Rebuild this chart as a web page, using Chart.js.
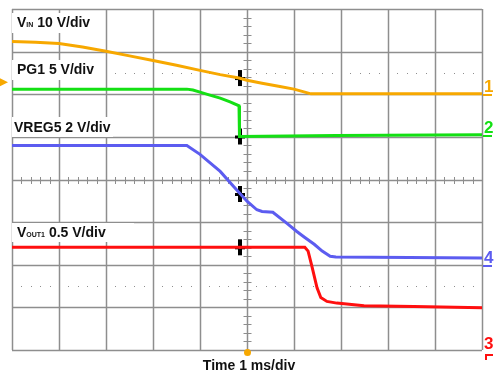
<!DOCTYPE html>
<html>
<head>
<meta charset="utf-8">
<script src="https://cdn.jsdelivr.net/npm/chart.js@4/dist/chart.umd.min.js"></script>
<style>
  html, body { margin: 0; padding: 0; background: #ffffff; }
  #wrap { width: 497px; height: 377px; }
</style>
</head>
<body>
<div id="wrap"><canvas id="c" width="497" height="377"></canvas></div>
<script>
// Time axis: ms (1 ms/div), trigger at 0. Vertical: screen divisions (0 = bottom, 8 = top).
const vinT  = [-5, -4.5, -4, -3.5, -3, -2.5, -2, -1.5, -1, -0.57, -0.17, 0, 0.32, 0.70, 1.0, 1.23, 1.36, 2, 3, 4, 5];
const vinV  = [7.24, 7.22, 7.19, 7.11, 7.01, 6.90, 6.79, 6.68, 6.56, 6.46, 6.38, 6.33, 6.26, 6.18, 6.12, 6.05, 6.01, 6.01, 6.01, 6.01, 6.01];

const pg1T  = [-5, -1.28, -1.15, -1.0, -0.79, -0.57, -0.36, -0.17, -0.16, 1.9, 5];
const pg1V  = [6.12, 6.12, 6.10, 6.05, 5.98, 5.91, 5.82, 5.73, 5.01, 5.03, 5.05];

const vregT = [-5, -1.28, -1.0, -0.57, -0.28, 0, 0.21, 0.32, 0.55, 0.85, 1.06, 1.23, 1.43, 1.60, 1.77, 1.89, 5];
const vregV = [4.80, 4.80, 4.59, 4.19, 3.83, 3.49, 3.29, 3.25, 3.23, 2.97, 2.78, 2.64, 2.48, 2.32, 2.20, 2.18, 2.16];

const voutT = [-5, 1.23, 1.30, 1.38, 1.49, 1.57, 1.70, 1.91, 2.49, 3.55, 5];
const voutV = [2.41, 2.41, 2.32, 1.97, 1.46, 1.23, 1.14, 1.10, 1.04, 1.02, 0.99];

const cursorT = [-0.15, -0.15, -0.15, -0.15];
const cursorV = [6.38, 5.01, 3.66, 2.41];

const chanNames  = ['1', '2', '4', '3'];
const chanLevels = [6.0, 5.05, 1.99, -0.12];
const triggerLevel = 6.28;
const dottedLevels = [6.5, 1.5];

const traceLabels = [
  { main: 'V', sub: 'IN', rest: ' 10 V/div', x: 17, y: 27, box: [12, 13, 84, 20] },
  { main: 'PG1 5 V/div', sub: '', rest: '', x: 17, y: 74, box: [12, 60, 88, 20] },
  { main: 'VREG5 2 V/div', sub: '', rest: '', x: 14, y: 132, box: [12, 117, 101, 20] },
  { main: 'V', sub: 'OUT1', rest: ' 0.5 V/div', x: 17, y: 237, box: [12, 223, 122, 19] }
];
const xTitle = 'Time 1 ms/div';

const C_OR = '#f7a800', C_GR = '#14e014', C_BL = '#5c5cf0', C_RD = '#ff0f0f';

function pts(t, v) { return t.map((x, i) => ({ x: x, y: v[i] })); }

// cursor marker
const cur = document.createElement('canvas');
cur.width = 10; cur.height = 18;
(function () {
  const g = cur.getContext('2d');
  g.fillStyle = '#000';
  g.fillRect(3, 1, 4, 16);
  g.fillRect(0, 8, 10, 3);
  g.fillStyle = '#fff';
  g.fillRect(4, 9, 2, 1);
})();

const FONT = 'bold 14px "Liberation Sans", Arial, sans-serif';

const scopePlugin = {
  id: 'scope',
  beforeDatasetsDraw(chart) {
    const ctx = chart.ctx, a = chart.chartArea;
    const xs = chart.scales.x, ys = chart.scales.y;
    ctx.save();
    ctx.strokeStyle = '#8e8e8e';
    ctx.lineWidth = 1.5;
    for (let i = -5; i <= 5; i++) {
      const px = Math.round(xs.getPixelForValue(i)) + 0.5;
      ctx.beginPath(); ctx.moveTo(px, a.top); ctx.lineTo(px, a.bottom); ctx.stroke();
    }
    for (let j = 0; j <= 8; j++) {
      const py = Math.round(ys.getPixelForValue(j)) + 0.5;
      ctx.beginPath(); ctx.moveTo(a.left, py); ctx.lineTo(a.right, py); ctx.stroke();
    }
    // minor ticks on center axes
    ctx.lineWidth = 1;
    const cx = Math.round(xs.getPixelForValue(0)) + 0.5;
    const cy = Math.round(ys.getPixelForValue(4)) + 0.5;
    for (let k = -25; k <= 25; k++) {
      if (k % 5 === 0) continue;
      const px = Math.round(xs.getPixelForValue(k / 5)) + 0.5;
      ctx.beginPath(); ctx.moveTo(px, cy - 3.5); ctx.lineTo(px, cy + 3.5); ctx.stroke();
    }
    for (let k = 0; k <= 40; k++) {
      if (k % 5 === 0) continue;
      const py = Math.round(ys.getPixelForValue(k / 5)) + 0.5;
      ctx.beginPath(); ctx.moveTo(cx - 4, py); ctx.lineTo(cx + 4, py); ctx.stroke();
    }
    // dotted lines
    ctx.fillStyle = '#8e8e8e';
    dottedLevels.forEach(lv => {
      const py = Math.round(ys.getPixelForValue(lv));
      for (let k = -25; k < 25; k++) {
        if (k % 5 === 0) continue;
        const px = Math.round(xs.getPixelForValue(k / 5));
        ctx.fillRect(px, py, 1, 1);
      }
    });
    // labels with white boxes
    traceLabels.forEach(l => {
      ctx.fillStyle = '#fff';
      ctx.fillRect(l.box[0], l.box[1], l.box[2], l.box[3]);
      ctx.fillStyle = '#111';
      ctx.font = FONT;
      ctx.textBaseline = 'alphabetic';
      ctx.textAlign = 'left';
      let x = l.x;
      ctx.fillText(l.main, x, l.y);
      x += ctx.measureText(l.main).width;
      if (l.sub) {
        ctx.font = 'bold 7px "Liberation Sans", Arial, sans-serif';
        ctx.fillText(l.sub, x, l.y);
        x += ctx.measureText(l.sub).width;
        ctx.font = FONT;
      }
      if (l.rest) ctx.fillText(l.rest, x, l.y);
    });
    ctx.restore();
  },
  afterDraw(chart) {
    const ctx = chart.ctx, a = chart.chartArea;
    const xs = chart.scales.x, ys = chart.scales.y;
    ctx.save();
    // x title
    ctx.fillStyle = '#111';
    ctx.font = FONT;
    ctx.textAlign = 'center';
    ctx.textBaseline = 'alphabetic';
    ctx.fillText(xTitle, xs.getPixelForValue(0) + 2, 370);
    // trigger level marker (left)
    const ty = ys.getPixelForValue(triggerLevel);
    ctx.fillStyle = C_OR;
    ctx.beginPath(); ctx.moveTo(0, ty - 4); ctx.lineTo(8, ty); ctx.lineTo(0, ty + 4); ctx.closePath(); ctx.fill();
    // trigger position marker (bottom)
    ctx.beginPath(); ctx.arc(xs.getPixelForValue(0) + 0.5, a.bottom + 2.5, 3.5, 0, Math.PI * 2); ctx.fill();
    // channel markers (right)
    const cols = [C_OR, C_GR, C_BL, C_RD];
    chanNames.forEach((n, i) => {
      const lv = chanLevels[i];
      ctx.fillStyle = cols[i];
      ctx.strokeStyle = cols[i];
      ctx.lineWidth = 2;
      ctx.font = 'bold 17px "Liberation Sans", Arial, sans-serif';
      ctx.textAlign = 'left';
      if (lv >= 0) {
        const py = Math.round(ys.getPixelForValue(lv)) + 1;
        ctx.beginPath(); ctx.moveTo(a.right + 1, py); ctx.lineTo(a.right + 10, py); ctx.stroke();
        ctx.fillText(n, a.right + 2, py - 3);
      } else {
        const py = a.bottom;
        ctx.fillText(n, a.right + 2, py - 1);
        ctx.beginPath(); ctx.moveTo(a.right + 4, py + 10); ctx.lineTo(a.right + 4, py + 5); ctx.lineTo(a.right + 11, py + 5); ctx.stroke();
      }
    });
    ctx.restore();
  }
};

const ds = (label, t, v, col) => ({
  label: label, data: pts(t, v), borderColor: col, backgroundColor: col,
  borderWidth: 3, pointRadius: 0, tension: 0, fill: false
});

new Chart(document.getElementById('c'), {
  type: 'line',
  data: {
    datasets: [
      ds('VIN', vinT, vinV, C_OR),
      ds('PG1', pg1T, pg1V, C_GR),
      ds('VREG5', vregT, vregV, C_BL),
      ds('VOUT1', voutT, voutV, C_RD),
      {
        label: 'cursors', data: pts(cursorT, cursorV), showLine: false,
        pointStyle: cur, pointRadius: 9, borderWidth: 0
      }
    ]
  },
  options: {
    responsive: false,
    animation: false,
    layout: { padding: { left: 12, right: 15, top: 5, bottom: 27 } },
    plugins: { legend: { display: false }, tooltip: { enabled: false } },
    scales: {
      x: { type: 'linear', min: -5, max: 5, display: false },
      y: { type: 'linear', min: 0, max: 8, display: false }
    }
  },
  plugins: [scopePlugin]
});
</script>
</body>
</html>
